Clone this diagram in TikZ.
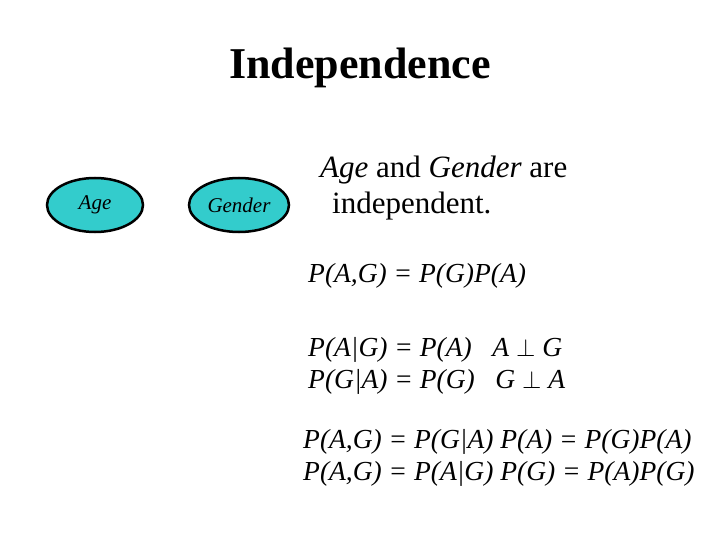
\documentclass[tikz,border=0pt]{standalone}
\usepackage{fontspec}
\setmainfont{Liberation Serif}
\usetikzlibrary{shapes.geometric}
\begin{document}
\begin{tikzpicture}[x=1pt,y=-1pt,
  nd/.style={ellipse,draw=black,line width=2.5pt,fill={rgb,255:red,51;green,204;blue,204},inner sep=0pt},
  txt/.style={anchor=west,inner sep=0pt,font=\fontsize{27.5}{32}\selectfont}]
\useasboundingbox (0,0) rectangle (720,540);
\node[font=\bfseries\fontsize{44}{50}\selectfont] (title) at (360,68) {Independence};
\node[nd,minimum width=96,minimum height=54] (age) at (95,205) {\fontsize{21}{24}\selectfont\itshape Age};
\node[nd,minimum width=100,minimum height=54] (gender) at (239,205) {\fontsize{21}{24}\selectfont\itshape Gender};
\node[txt,font=\fontsize{31}{36}\selectfont] (t1) at (320,170) {\textit{Age} and \textit{Gender} are};
\node[txt,font=\fontsize{31}{36}\selectfont] (t2) at (332,206) {independent.};
\node[txt] (e1) at (308,276) {\textit{P(A,G) = P(G)P(A)}};
\node[txt] (e2) at (308,350) {\textit{P(A|G) = P(A)\ \ \ A $\perp$ G}};
\node[txt] (e3) at (308,382) {\textit{P(G|A) = P(G)\ \ \ G $\perp$ A}};
\node[txt] (e4) at (303,442) {\textit{P(A,G) = P(G|A) P(A) = P(G)P(A)}};
\node[txt] (e5) at (303,474) {\textit{P(A,G) = P(A|G) P(G) = P(A)P(G)}};
\end{tikzpicture}
\end{document}
